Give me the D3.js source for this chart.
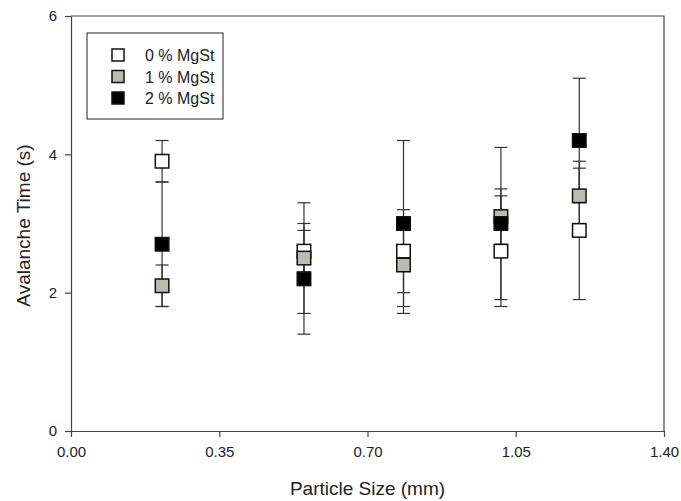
<!DOCTYPE html>
<html>
<head>
<meta charset="utf-8">
<script src="https://cdn.jsdelivr.net/npm/d3@7"></script>
<style>
  body { margin: 0; background: #fff; }
  svg text { font-family: "Liberation Sans", Arial, sans-serif; fill: #222; }
</style>
</head>
<body>
<div class="container"></div>
<script>
// particle sizes (mm)
const sizes = [0.215, 0.55, 0.785, 1.015, 1.20];

const seriesNames = ["0 % MgSt", "1 % MgSt", "2 % MgSt"];
const seriesFill = ["#ffffff", "#bcbcae", "#000000"];

// avalanche time (s) and error (+/-)
const mg0 = [3.9, 2.6, 2.6, 2.6, 2.9];
const mg0Err = [0.3, 0.3, 0.6, 0.8, 1.0];
const mg1 = [2.1, 2.5, 2.4, 3.1, 3.4];
const mg1Err = [0.3, 0.8, 0.7, 0.4, 0.4];
const mg2 = [2.7, 2.2, 3.0, 3.0, 4.2];
const mg2Err = [0.9, 0.8, 1.2, 1.1, 0.9];

const xTicks = [0, 0.35, 0.70, 1.05, 1.40];
const yTicks = [0, 2, 4, 6];

const margin = {
  top: 16,
  right: 17,
  bottom: 70,
  left: 71
};

const width = 681;
const innerWidth = width - (margin.left + margin.right);
const height = 501;
const innerHeight = height - (margin.top + margin.bottom);

let svg = d3.select(".container").append("svg")
  .attr("width", width).attr("height", height);

let g = svg.append("g")
  .attr("transform", `translate(${margin.left}, ${margin.top})`);

// Scales
let xScale = d3.scaleLinear([0, 1.4], [0, innerWidth]);
let yScale = d3.scaleLinear([0, 6], [innerHeight, 0]);

// frame (top + right)
g.append("path")
  .attr("d", `M0,0H${innerWidth}V${innerHeight}`)
  .attr("fill", "none")
  .attr("stroke", "#444")
  .attr("stroke-width", 1.2);

// Axes
let xAxis = d3.axisBottom(xScale)
  .tickValues(xTicks)
  .tickFormat(d3.format(".2f"))
  .tickSize(6).tickPadding(9).tickSizeOuter(0);
let yAxis = d3.axisLeft(yScale)
  .tickValues(yTicks)
  .tickFormat(d3.format("d"))
  .tickSize(6).tickPadding(8).tickSizeOuter(0);

let gx = g.append("g").attr("transform", `translate(0, ${innerHeight})`).call(xAxis);
let gy = g.append("g").call(yAxis);

[gx, gy].forEach((ax) => {
  ax.selectAll("path, line").attr("stroke", "#444").attr("stroke-width", 1.2);
  ax.selectAll("text").style("font-size", "15px").attr("fill", "#222");
});

// titles
svg.append("text")
  .attr("x", margin.left + innerWidth / 2)
  .attr("y", 495)
  .attr("text-anchor", "middle")
  .style("font-size", "19px")
  .text("Particle Size (mm)");

svg.append("text")
  .attr("transform", `translate(30, ${margin.top + innerHeight / 2 + 2}) rotate(-90)`)
  .attr("text-anchor", "middle")
  .style("font-size", "19px")
  .text("Avalanche Time (s)");

// Data plotting
const series = [
  { values: mg0, errs: mg0Err },
  { values: mg1, errs: mg1Err },
  { values: mg2, errs: mg2Err }
];

const cap = 6.5;
const box = 13.5;

// error bars go underneath all markers
series.forEach((s) => {
  let bars = g.append("g")
    .attr("stroke", "#333")
    .attr("stroke-width", 1.2)
    .selectAll("g").data(s.values).enter().append("g");

  bars.append("line")
    .attr("x1", (d, i) => xScale(sizes[i]))
    .attr("x2", (d, i) => xScale(sizes[i]))
    .attr("y1", (d, i) => yScale(d + s.errs[i]))
    .attr("y2", (d, i) => yScale(d - s.errs[i]));

  [1, -1].forEach((sign) => {
    bars.append("line")
      .attr("x1", (d, i) => xScale(sizes[i]) - cap)
      .attr("x2", (d, i) => xScale(sizes[i]) + cap)
      .attr("y1", (d, i) => yScale(d + sign * s.errs[i]))
      .attr("y2", (d, i) => yScale(d + sign * s.errs[i]));
  });
});

series.forEach((s, k) => {
  g.append("g").selectAll("rect")
    .data(s.values).enter().append("rect")
    .attr("x", (d, i) => xScale(sizes[i]) - box / 2)
    .attr("y", (d) => yScale(d) - box / 2)
    .attr("width", box)
    .attr("height", box)
    .attr("fill", seriesFill[k])
    .attr("stroke", "#111")
    .attr("stroke-width", 1.5);
});

// Legend
let legend = svg.append("g").attr("transform", "translate(87, 33)");
legend.append("rect")
  .attr("width", 136).attr("height", 86)
  .attr("fill", "#fff")
  .attr("stroke", "#222")
  .attr("stroke-width", 1);

let rows = legend.selectAll("g.row")
  .data(seriesNames).enter().append("g")
  .attr("class", "row")
  .attr("transform", (d, i) => `translate(0, ${22 + i * 21.5})`);

rows.append("rect")
  .attr("x", 25).attr("y", -6)
  .attr("width", 12).attr("height", 12)
  .attr("fill", (d, i) => seriesFill[i])
  .attr("stroke", "#111")
  .attr("stroke-width", 1.5);

rows.append("text")
  .attr("x", 58).attr("y", 6)
  .style("font-size", "16px")
  .text((d) => d);
</script>
</body>
</html>
